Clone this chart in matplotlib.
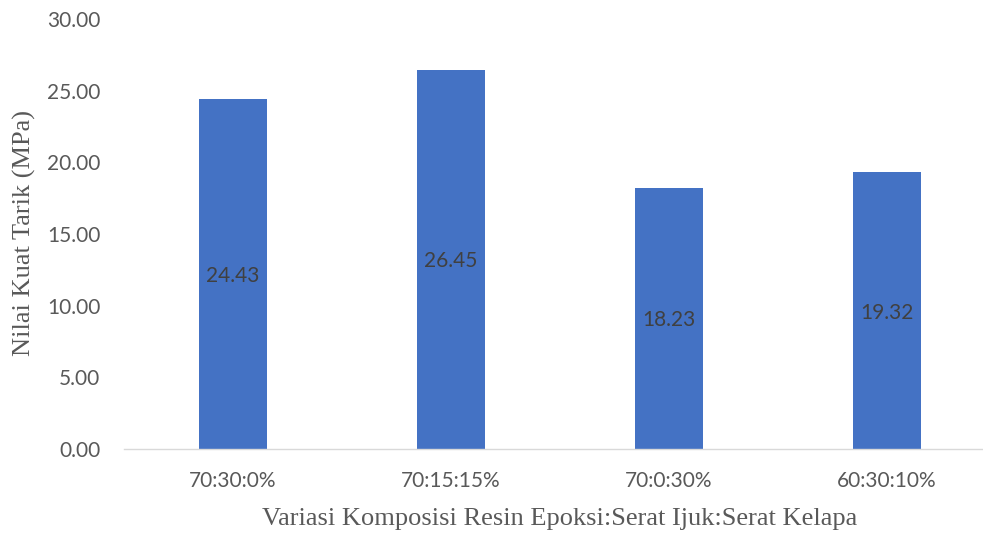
import matplotlib
matplotlib.use("Agg")
import matplotlib.pyplot as plt

categories = ["70:30:0%", "70:15:15%", "70:0:30%", "60:30:10%"]
values = [24.43, 26.45, 18.23, 19.32]
yticks = [0, 5, 10, 15, 20, 25, 30]

fig = plt.figure(figsize=(9.83, 5.33), dpi=100)
W, H = 983, 533
ax = fig.add_axes([124 / W, 84 / H, 872 / W, 430 / H])

x = list(range(len(categories)))
bars = ax.bar(x, values, width=0.31, color="#4472C4")
ax.set_xlim(-0.5, len(categories) - 0.5)
ax.set_ylim(0, 30)

for xi, v in zip(x, values):
    ax.text(xi, v / 2, f"{v:.2f}", ha="center", va="center_baseline",
            fontsize=15, color="#404040", family="Lato")

ax.set_yticks(yticks)
ax.set_yticklabels([f"{t:.2f}" for t in yticks], family="Lato", fontsize=15, color="#595959")
ax.set_xticks(x)
ax.set_xticklabels(categories, family="Lato", fontsize=15, color="#595959")
ax.tick_params(axis="both", length=0)
ax.tick_params(axis="y", pad=17)
ax.tick_params(axis="x", pad=16)

for s in ["top", "right", "left"]:
    ax.spines[s].set_visible(False)
ax.spines["bottom"].set_color("#D9D9D9")
ax.spines["bottom"].set_linewidth(1.0)

fig.text(24 / W, 1 - 233 / H, "Nilai Kuat Tarik (MPa)", rotation=90, ha="center", va="center",
         family="Liberation Serif", fontsize=19, color="#595959")
fig.text(560 / W, 1 - 519 / H, "Variasi Komposisi Resin Epoksi:Serat Ijuk:Serat Kelapa",
         ha="center", va="center", family="Liberation Serif", fontsize=19, color="#595959")

fig.savefig("out.png", dpi=100)
